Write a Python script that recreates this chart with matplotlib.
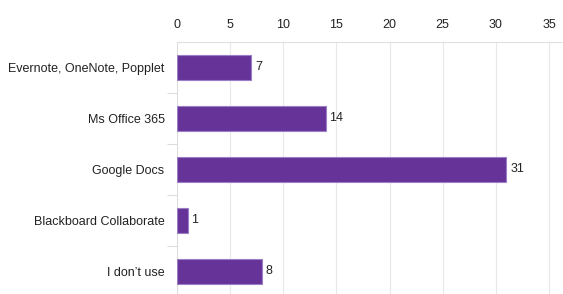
import matplotlib.pyplot as plt

categories = ["Evernote, OneNote, Popplet", "Ms Office 365", "Google Docs",
              "Blackboard Collaborate", "I don\u2019t use"]
counts = [7, 14, 31, 1, 8]
xticks = [0, 5, 10, 15, 20, 25, 30, 35]

plt.rcParams['font.family'] = ['Liberation Sans', 'DejaVu Sans']

W, H = 563, 294
fig = plt.figure(figsize=(W / 100, H / 100), dpi=100)

left, top = 177, 42
unit = (549 - 177) / 35
row = 51
ax = fig.add_axes([left / W, 1 - (top + row * 5) / H, (W - left) / W, row * 5 / H])

y = range(len(categories))
ax.barh(y, counts, height=0.5, color="#663399", edgecolor="#9b7fc4", linewidth=0.8, zorder=3)
for yi, v in zip(y, counts):
    ax.text(v + 0.35, yi, str(v), va="center", ha="left", fontsize=9, color="#222222")

ax.set_xlim(0, (W - left) / unit)
ax.set_ylim(len(categories) - 0.5, -0.5)
ax.xaxis.tick_top()
ax.set_xticks(xticks)
ax.tick_params(axis="x", length=0, pad=8, labelsize=9, labelcolor="#222222")
ax.set_yticks(y)
ax.set_yticklabels(categories)
ax.set_yticks([i + 0.5 for i in range(len(categories) - 1)], minor=True)
ax.tick_params(axis="y", which="major", length=0, pad=9, labelsize=9, labelcolor="#222222")
ax.tick_params(axis="y", which="minor", length=7, color="#dddddd", width=0.8)
ax.grid(axis="x", color="#e8e8e8", linewidth=0.8, zorder=0)
for s in ["right", "bottom", "left"]:
    ax.spines[s].set_visible(False)
ax.spines["top"].set_color("#e0e0e0")
ax.spines["top"].set_linewidth(0.8)
ax.axvline(0, color="#dddddd", linewidth=0.8, zorder=2)

fig.savefig("out.png", dpi=100)
